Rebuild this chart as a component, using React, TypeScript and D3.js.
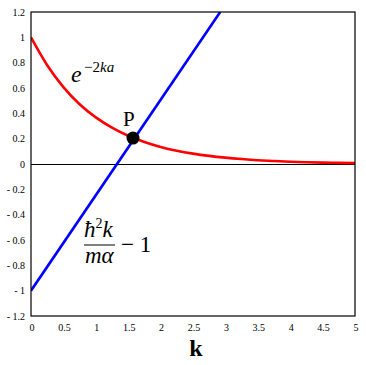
import React from "react";
import * as d3 from "d3";

const kValues = [0, 0.25, 0.5, 0.75, 1, 1.25, 1.5, 1.75, 2, 2.25, 2.5, 2.75, 3, 3.25, 3.5, 3.75, 4, 4.25, 4.5, 4.75, 5];
const expValues = [1, 0.78, 0.607, 0.472, 0.368, 0.287, 0.223, 0.174, 0.135, 0.105, 0.082, 0.064, 0.05, 0.039, 0.03, 0.024, 0.018, 0.014, 0.011, 0.009, 0.007];
const lineK = [0, 2.92];
const lineValues = [-1, 1.2];
const pointP = { k: 1.574, v: 0.205 };
const xTicks = [0, 0.5, 1, 1.5, 2, 2.5, 3, 3.5, 4, 4.5, 5];
const yTicks = [1.2, 1, 0.8, 0.6, 0.4, 0.2, 0, -0.2, -0.4, -0.6, -0.8, -1, -1.2];

const W = 366, H = 365;
const L = 31, R = 355, T = 12, B = 316;

export default function App() {
  const x = d3.scaleLinear().domain([0, 5]).range([L, R]);
  const y = d3.scaleLinear().domain([-1.2, 1.2]).range([B, T]);
  const line = d3.line<[number, number]>().x(d => x(d[0])).y(d => y(d[1])).curve(d3.curveMonotoneX);
  const redPath = line(kValues.map((k, i) => [k, expValues[i]]))!;
  const bluePath = d3.line<[number, number]>().x(d => x(d[0])).y(d => y(d[1]))(lineK.map((k, i) => [k, lineValues[i]]))!;
  const fmt = (v: number) => (v < 0 ? "- " + String(Math.abs(v)) : String(v));
  const tickFont = "Liberation Serif";
  const mathFont = "Liberation Serif";
  return (
    <svg width={W} height={H} style={{ position: "absolute", left: 0, top: 0, background: "#fff" }}>
      <defs>
        <clipPath id="plot"><rect x={L} y={T} width={R - L} height={B - T} /></clipPath>
      </defs>
      <rect x={0} y={0} width={W} height={H} fill="#fff" />
      <line x1={L} x2={R} y1={Math.round(y(0)) + 0.5} y2={Math.round(y(0)) + 0.5} stroke="#000" strokeWidth={1} shapeRendering="crispEdges" />
      <g clipPath="url(#plot)">
        <path d={redPath} fill="none" stroke="#ff0000" strokeWidth={2.6} />
        <path d={bluePath} fill="none" stroke="#0000ff" strokeWidth={2.6} />
      </g>
      <rect x={L} y={T} width={R - L} height={B - T} fill="none" stroke="#000" strokeWidth={1.2} />
      <circle cx={x(pointP.k)} cy={y(pointP.v)} r={6.5} fill="#000" />
      {yTicks.map(v => (
        <text key={"y" + v} x={25} y={y(v)} textAnchor="end" dominantBaseline="central" style={{ fontFamily: tickFont }} fontSize={10}>{fmt(v)}</text>
      ))}
      {xTicks.map(v => (
        <text key={"x" + v} x={x(v) + 1} y={327} textAnchor="middle" dominantBaseline="central" style={{ fontFamily: tickFont }} fontSize={10}>{String(v)}</text>
      ))}
      <text x={196} y={356} textAnchor="middle" style={{ fontFamily: mathFont }} fontWeight="bold" fontSize={24}>k</text>
      <text x={71} y={82} style={{ fontFamily: mathFont }} fontStyle="italic" fontSize={24}>e</text>
      <text x={84} y={72} style={{ fontFamily: mathFont }} fontSize={15}>
        <tspan>−2</tspan><tspan fontStyle="italic">ka</tspan>
      </text>
      <text x={123} y={126} style={{ fontFamily: mathFont }} fontSize={21}>P</text>
      <text x={84} y={237} style={{ fontFamily: mathFont }} fontStyle="italic" fontSize={23}>
        ħ<tspan fontSize={14} fontStyle="normal" dy={-9}>2</tspan><tspan dy={9}>k</tspan>
      </text>
      <line x1={84} x2={115} y1={245} y2={245} stroke="#000" strokeWidth={1} />
      <text x={85} y={263} style={{ fontFamily: mathFont }} fontStyle="italic" fontSize={23}>mα</text>
      <text x={121} y={252} style={{ fontFamily: mathFont }} fontSize={23}>− 1</text>
    </svg>
  );
}
